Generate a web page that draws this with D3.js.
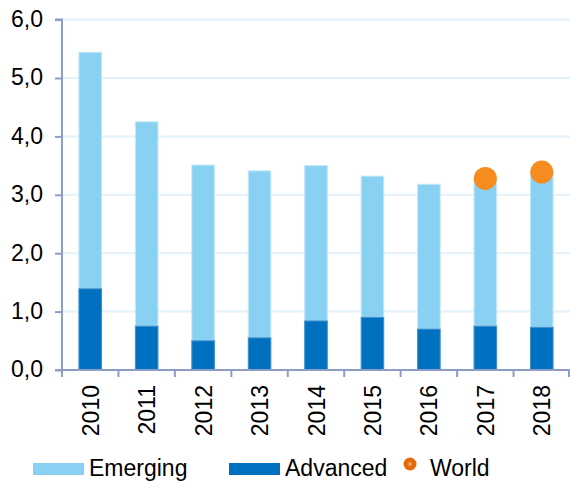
<!DOCTYPE html>
<html>
<head>
<meta charset="utf-8">
<script src="https://cdn.jsdelivr.net/npm/d3@7"></script>
<style>
  body { margin: 0; background: #fff; }
  svg { display: block; }
  text { font-family: "Liberation Sans", Arial, sans-serif; fill: #000; }
</style>
</head>
<body>
<svg width="570" height="486"></svg>
<script>
const years = ['2010', '2011', '2012', '2013', '2014', '2015', '2016', '2017', '2018'];
const advanced = [1.39, 0.75, 0.50, 0.55, 0.84, 0.90, 0.70, 0.75, 0.73];
const total = [5.44, 4.25, 3.51, 3.41, 3.50, 3.32, 3.18, 3.27, 3.38];
const world = [null, null, null, null, null, null, null, 3.28, 3.39];
const yTicks = [0, 1, 2, 3, 4, 5, 6];

const svg = d3.select('svg');
const plotLeft = 62, plotRight = 570, plotTop = 19.6, plotBottom = 370;
const fontSize = 23;

const x = d3.scaleBand().domain(years).range([plotLeft, plotRight]).paddingInner(0.6).paddingOuter(0.3);
const xTick = d3.scaleBand().domain(years).range([plotLeft, plotRight]);
const y = d3.scaleLinear().domain([0, 6]).range([plotBottom, plotTop]);

// gridlines
svg.append('g').selectAll('line')
  .data(yTicks.slice(1))
  .join('line')
  .attr('x1', plotLeft).attr('x2', plotRight)
  .attr('y1', d => y(d)).attr('y2', d => y(d))
  .attr('stroke', '#e3f1fb').attr('stroke-width', 2);

// bars: emerging = total - advanced, stacked on advanced
const bars = svg.append('g');
years.forEach((yr, i) => {
  bars.append('rect')
    .attr('x', x(yr)).attr('width', x.bandwidth())
    .attr('y', y(total[i])).attr('height', y(advanced[i]) - y(total[i]))
    .attr('fill', '#89d1f3').attr('stroke', '#c4e8f9').attr('stroke-width', 1);
  bars.append('rect')
    .attr('x', x(yr)).attr('width', x.bandwidth())
    .attr('y', y(advanced[i])).attr('height', y(0) - y(advanced[i]))
    .attr('fill', '#0070c0').attr('stroke', '#3d8fcc').attr('stroke-width', 1);
});

// world dots
svg.append('g').selectAll('circle')
  .data(years.map((yr, i) => ({ yr, v: world[i] })).filter(d => d.v != null))
  .join('circle')
  .attr('cx', d => x(d.yr) + x.bandwidth() / 2)
  .attr('cy', d => y(d.v))
  .attr('r', 11.5)
  .attr('fill', '#f68b1f');

// y axis
const yAxis = svg.append('g').attr('transform', `translate(${plotLeft},0)`)
  .call(d3.axisLeft(y).tickValues(yTicks).tickSize(7).tickPadding(12)
    .tickFormat(d => d3.format('.1f')(d).replace('.', ',')));
yAxis.select('.domain').attr('stroke', '#8e9cc8').attr('stroke-width', 2).attr('d', `M-7,${y(6)}H0V${plotBottom}`);
yAxis.selectAll('.tick line').attr('stroke', '#8e9cc8').attr('stroke-width', 2);
yAxis.selectAll('.tick text').attr('font-size', fontSize).attr('dy', '0.3em')
  .style('font-family', '"Liberation Sans", Arial, sans-serif').attr('fill', '#000');

// x axis
const xAxis = svg.append('g').attr('transform', `translate(0,${plotBottom})`);
xAxis.append('line').attr('x1', plotLeft - 7).attr('x2', plotRight)
  .attr('stroke', '#8e9cc8').attr('stroke-width', 2);
xAxis.selectAll('.xt')
  .data(years.concat(['end']))
  .join('line')
  .attr('x1', d => d === 'end' ? plotRight - 1 : xTick(d))
  .attr('x2', d => d === 'end' ? plotRight - 1 : xTick(d))
  .attr('y1', 0).attr('y2', 7)
  .attr('stroke', '#8e9cc8').attr('stroke-width', 2);
xAxis.selectAll('text')
  .data(years)
  .join('text')
  .attr('transform', d => `translate(${x(d) + x.bandwidth() / 2 + 8.5},15) rotate(-90)`)
  .attr('text-anchor', 'end')
  .attr('font-size', fontSize)
  .text(d => d);

// legend
const lg = svg.append('g');
lg.append('rect').attr('x', 33).attr('y', 463).attr('width', 51).attr('height', 12).attr('fill', '#89d1f3');
lg.append('text').attr('x', 89).attr('y', 476).attr('font-size', fontSize).text('Emerging');
lg.append('rect').attr('x', 229).attr('y', 463).attr('width', 51).attr('height', 12).attr('fill', '#0070c0');
lg.append('text').attr('x', 285).attr('y', 476).attr('font-size', fontSize).text('Advanced');
lg.append('circle').attr('cx', 410).attr('cy', 464).attr('r', 6.5).attr('fill', '#e36c0a');
lg.append('circle').attr('cx', 410).attr('cy', 464).attr('r', 2).attr('fill', '#f59a50');
lg.append('text').attr('x', 430).attr('y', 476).attr('font-size', fontSize).text('World');
</script>
</body>
</html>
